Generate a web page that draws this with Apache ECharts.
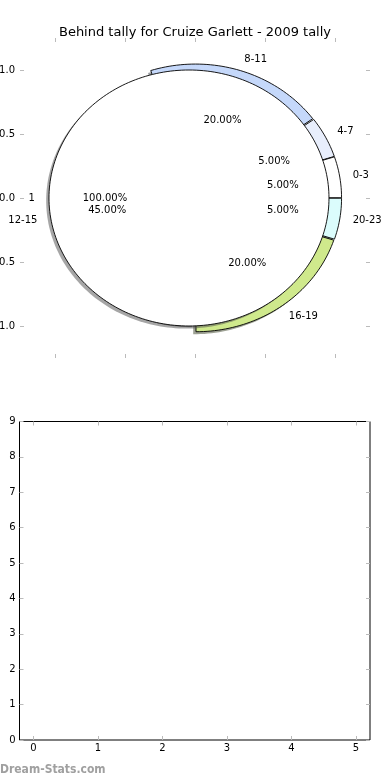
<!DOCTYPE html>
<html><head><meta charset="utf-8">
<script src="https://cdn.jsdelivr.net/npm/echarts@6/dist/echarts.min.js"></script>
<style>html,body{margin:0;padding:0;background:#fff}#c{width:390px;height:780px}</style>
</head><body><div id="c"></div>
<script>
// ---- data ----
const chartTitle = 'Behind tally for Cruize Garlett - 2009 tally';
const outerCategories = ['8-11', '4-7', '0-3', '20-23', '16-19', '12-15'];
const outerValues = [20, 5, 5, 5, 20, 45];
const innerCategories = ['1'];
const innerValues = [100];
const pieTicks = [-1, -0.5, 0, 0.5, 1];
const lowerXTicks = [0, 1, 2, 3, 4, 5];
const lowerYTicks = [0, 1, 2, 3, 4, 5, 6, 7, 8, 9];
const watermark = 'Dream-Stats.com';

// ---- styles / geometry ----
const outerColors = ['#c5d8fa', '#e8eefc', '#ffffff', '#dbfcfc', '#cfe98c', '#ffffff'];
const innerColors = ['#ffffff'];
const FONT = 'DejaVu Sans';
const OUTER_START = 108;
const OUTER_RADII = [1.035, 1.035, 1.035, 1.035, 1.035, 0.99];
const OUTER_EXPLODE = [0.012, 0.012, 0.012, 0.012, 0.012, 0];
const INNER_START = 0;
const INNER_RADII = [1.0];
const INNER_EXPLODE = [0.043];
const LABEL_R = 1.14, PCT_R = 0.635;
const SHADOW_OFF = [-0.02, -0.02];

function sliceAngles(values, start, clockwise) {
  const total = values.reduce((a, b) => a + b, 0);
  let cum = 0;
  return values.map(v => {
    const s = clockwise ? start - cum / total * 360 : start + cum / total * 360;
    cum += v;
    const e = clockwise ? start - cum / total * 360 : start + cum / total * 360;
    return { a0: s, a1: e, pct: v / total * 100 };
  });
}
const outerAng = sliceAngles(outerValues, OUTER_START, true);
const innerAng = sliceAngles(innerValues, INNER_START, false);

function shadowColor(hex) {
  const n = parseInt(hex.slice(1), 16);
  const r = Math.round(((n >> 16) & 255) * 0.3), g = Math.round(((n >> 8) & 255) * 0.3), b = Math.round((n & 255) * 0.3);
  return 'rgba(' + r + ',' + g + ',' + b + ',0.5)';
}

function wedgeRender(ang, radii, explode, colors, isShadow) {
  return function (params, api) {
    const i = params.dataIndex;
    const a0 = ang[i].a0, a1 = ang[i].a1, radius = radii[i];
    const mid = (a0 + a1) / 2 * Math.PI / 180;
    let cx = explode[i] * Math.cos(mid), cy = explode[i] * Math.sin(mid);
    if (isShadow) { cx += SHADOW_OFF[0]; cy += SHADOW_OFF[1]; }
    const full = Math.abs(a1 - a0) >= 359.999;
    const pts = [];
    if (!full) pts.push(api.coord([cx, cy]));
    const n = Math.max(6, Math.ceil(Math.abs(a1 - a0) / 1.5));
    for (let k = 0; k <= n; k++) {
      const t = (a0 + (a1 - a0) * k / n) * Math.PI / 180;
      pts.push(api.coord([cx + radius * Math.cos(t), cy + radius * Math.sin(t)]));
    }
    return {
      type: 'polygon',
      shape: { points: pts },
      style: isShadow ? { fill: shadowColor(colors[i]), stroke: null }
                      : { fill: colors[i], stroke: '#000', lineWidth: 0.9 }
    };
  };
}

function labelRender(ang, names, explode, labelR, pctR) {
  return function (params, api) {
    const i = params.dataIndex;
    const mid = (ang[i].a0 + ang[i].a1) / 2 * Math.PI / 180;
    const ex = explode[i] * Math.cos(mid), ey = explode[i] * Math.sin(mid);
    const c = Math.cos(mid), s = Math.sin(mid);
    const lp = api.coord([ex + labelR * c, ey + labelR * s]);
    const pp = api.coord([ex + pctR * c, ey + pctR * s]);
    return {
      type: 'group',
      children: [
        { type: 'text', x: lp[0], y: lp[1],
          style: { text: names[i], fill: '#000', fontSize: 10, fontFamily: FONT,
                   align: c > 0 ? 'left' : 'right', verticalAlign: 'middle' } },
        { type: 'text', x: pp[0], y: pp[1],
          style: { text: ang[i].pct.toFixed(2) + '%', fill: '#000', fontSize: 10, fontFamily: FONT,
                   align: 'center', verticalAlign: 'middle' } }
      ]
    };
  };
}

const outerData = outerValues.map((v, i) => ({ name: outerCategories[i], value: [v, v] }));
const innerData = innerValues.map((v, i) => ({ name: innerCategories[i], value: [v, v] }));

const tickStyle = { show: true, inside: true, length: 4, lineStyle: { color: '#bbbbbb', width: 1 } };
const noLine = { show: false, onZero: false };
const fmt1 = v => (v < 0 ? '\u2212' : '') + Math.abs(v).toFixed(1);

const chart = echarts.init(document.getElementById('c'), null, { renderer: 'canvas' });
chart.setOption({
  animation: false,
  backgroundColor: '#fff',
  title: {
    text: chartTitle, left: 'center', top: 21,
    textStyle: { fontFamily: FONT, fontSize: 13, fontWeight: 'normal', color: '#000' }
  },
  graphic: [{
    type: 'text', left: 0, top: 764,
    style: { text: watermark, fill: '#a0a0a0', font: 'bold 12px "DejaVu Sans Condensed", "DejaVu Sans"' }
  }],
  grid: [
    { left: 20, width: 350, top: 38, height: 320, show: false, outerBoundsMode: 'none', containLabel: false },
    { left: 19.5, width: 350.5, top: 421.5, height: 318.5, show: true, borderColor: '#000', borderWidth: 1,
      backgroundColor: 'transparent', outerBoundsMode: 'none', containLabel: false }
  ],
  xAxis: [
    { gridIndex: 0, type: 'value', position: 'bottom', min: -1.25, max: 1.25,
      axisLine: noLine, splitLine: { show: false }, axisLabel: { show: false },
      axisTick: Object.assign({ customValues: pieTicks }, tickStyle) },
    { gridIndex: 0, type: 'value', position: 'top', min: -1.25, max: 1.25,
      axisLine: noLine, splitLine: { show: false }, axisLabel: { show: false },
      axisTick: Object.assign({ customValues: pieTicks }, tickStyle) },
    { gridIndex: 1, type: 'value', position: 'bottom', min: -0.215, max: 5.22,
      axisLine: noLine, splitLine: { show: false },
      axisLabel: { customValues: lowerXTicks, fontFamily: FONT, fontSize: 10, color: '#000', margin: 3 },
      axisTick: Object.assign({ customValues: lowerXTicks }, tickStyle) },
    { gridIndex: 1, type: 'value', position: 'top', min: -0.215, max: 5.22,
      axisLine: noLine, splitLine: { show: false }, axisLabel: { show: false },
      axisTick: Object.assign({ customValues: lowerXTicks }, tickStyle) }
  ],
  yAxis: [
    { gridIndex: 0, type: 'value', position: 'left', min: -1.25, max: 1.25,
      axisLine: noLine, splitLine: { show: false },
      axisLabel: { customValues: pieTicks, formatter: fmt1, fontFamily: FONT, fontSize: 10, color: '#000', margin: 5 },
      axisTick: Object.assign({ customValues: pieTicks }, tickStyle) },
    { gridIndex: 0, type: 'value', position: 'right', min: -1.25, max: 1.25,
      axisLine: noLine, splitLine: { show: false }, axisLabel: { show: false },
      axisTick: Object.assign({ customValues: pieTicks }, tickStyle) },
    { gridIndex: 1, type: 'value', position: 'left', min: 0, max: 9, interval: 1,
      axisLine: noLine, splitLine: { show: false },
      axisLabel: { customValues: lowerYTicks, fontFamily: FONT, fontSize: 10, color: '#000', margin: 4 },
      axisTick: Object.assign({ customValues: lowerYTicks }, tickStyle) },
    { gridIndex: 1, type: 'value', position: 'right', min: 0, max: 9, interval: 1,
      axisLine: noLine, splitLine: { show: false }, axisLabel: { show: false },
      axisTick: Object.assign({ customValues: lowerYTicks }, tickStyle) }
  ],
  series: [
    { type: 'custom', name: 'outerShadow', xAxisIndex: 0, yAxisIndex: 0, z: 1, clip: false, silent: true,
      renderItem: wedgeRender(outerAng, OUTER_RADII, OUTER_EXPLODE, outerColors, true), data: outerData },
    { type: 'custom', name: 'outer', xAxisIndex: 0, yAxisIndex: 0, z: 2, clip: false,
      renderItem: wedgeRender(outerAng, OUTER_RADII, OUTER_EXPLODE, outerColors, false), data: outerData },
    { type: 'custom', name: 'innerShadow', xAxisIndex: 0, yAxisIndex: 0, z: 3, clip: false, silent: true,
      renderItem: wedgeRender(innerAng, INNER_RADII, INNER_EXPLODE, innerColors, true), data: innerData },
    { type: 'custom', name: 'inner', xAxisIndex: 0, yAxisIndex: 0, z: 4, clip: false,
      renderItem: wedgeRender(innerAng, INNER_RADII, INNER_EXPLODE, innerColors, false), data: innerData },
    { type: 'custom', name: 'outerLabels', xAxisIndex: 0, yAxisIndex: 0, z: 5, clip: false, silent: true,
      renderItem: labelRender(outerAng, outerCategories, OUTER_EXPLODE.map(() => 0), LABEL_R, PCT_R), data: outerData },
    { type: 'custom', name: 'innerLabels', xAxisIndex: 0, yAxisIndex: 0, z: 5, clip: false, silent: true,
      renderItem: labelRender(innerAng, innerCategories, INNER_EXPLODE, 1.1 * INNER_RADII[0], 0.6 * INNER_RADII[0]), data: innerData },
    { type: 'scatter', xAxisIndex: 2, yAxisIndex: 2, data: [] }
  ]
});
</script>
</body></html>
